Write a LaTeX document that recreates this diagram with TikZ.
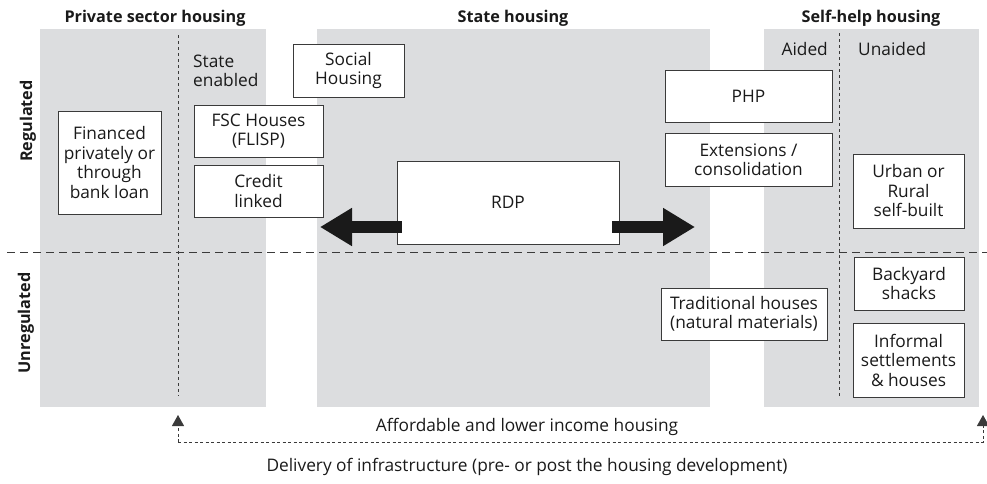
\documentclass[tikz,border=0pt]{standalone}
\usepackage{fontspec}
\setmainfont{Open Sans}
\usetikzlibrary{arrows.meta}

\definecolor{panel}{HTML}{DCDDDF}
\definecolor{ink}{HTML}{1A1A1A}
\definecolor{rule}{HTML}{3A3A3A}
\tikzstyle{panels}=[fill=panel, draw=none]
\tikzstyle{boxes}=[draw=rule, fill=white, line width=0.9pt, align=center, inner sep=0pt, text=ink, font=\fontsize{17.3}{19.5}\selectfont]
\tikzstyle{labels}=[text=ink, inner sep=0pt, font=\fontsize{17.3}{19.5}\selectfont]
\tikzstyle{heads}=[text=ink, inner sep=0pt, font=\bfseries\fontsize{16.2}{19}\selectfont]
\tikzstyle{splits}=[draw=rule, line width=0.9pt, dash pattern=on 3pt off 3pt]
\tikzstyle{divide}=[draw=rule, line width=1pt, dash pattern=on 8pt off 5pt]
\tikzstyle{bigarrow}=[draw=ink, line width=12pt, -{Triangle[length=32pt,width=36pt]}]
\tikzstyle{infra}=[draw=rule, line width=0.9pt, dash pattern=on 3pt off 2.5pt, -{Triangle[length=11pt,width=12pt]}]

\begin{document}
\begin{tikzpicture}[x=1pt, y=-1pt]
  \useasboundingbox (0,0) rectangle (987,483);
  % grey columns
  \fill[panels] (40,29) rectangle (266,407);
  \fill[panels] (317,29) rectangle (710,407);
  \fill[panels] (764,29) rectangle (979,407);

  % column headings
  \node[heads] (H1) at (155,18) {Private sector housing};
  \node[heads] (H2) at (513,18) {State housing};
  \node[heads] (H3) at (871,18) {Self-help housing};

  % row headings
  \node[heads, rotate=90] (R1) at (28,121) {Regulated};
  \node[heads, rotate=90] (R2) at (26,323) {Unregulated};

  % dividers
  \coordinate (DL) at (7,252);
  \coordinate (DR) at (987,252);
  \draw[divide] (DL) -- (DR);
  \coordinate (V1a) at (178,35);
  \coordinate (V1b) at (178,396);
  \draw[splits] (V1a) -- (V1b);
  \coordinate (V2a) at (839,33);
  \coordinate (V2b) at (839,396);
  \draw[splits] (V2a) -- (V2b);

  \node[labels, anchor=west, align=left] (SE) at (193,71) {State\\enabled};
  \node[labels, anchor=east] (AI) at (828,49) {Aided};
  \node[labels, anchor=west] (UN) at (858,49) {Unaided};

  % private sector
  \node[boxes, minimum width=103, minimum height=103] (FIN) at (109.5,162.5) {Financed\\privately or\\through\\bank loan};
  \node[boxes, minimum width=129, minimum height=52] (FSC) at (258.5,131) {FSC Houses\\(FLISP)};
  \node[boxes, minimum width=129, minimum height=52] (CRE) at (258.5,191) {Credit\\linked};

  % state
  \node[boxes, minimum width=111, minimum height=53] (SOC) at (348.5,70.5) {Social\\Housing};
  \node[boxes, minimum width=222, minimum height=83] (RDP) at (508,202.5) {RDP};
  \node[boxes, minimum width=167, minimum height=52] (PHP) at (748.5,96) {PHP};
  \node[boxes, minimum width=167, minimum height=53] (EXT) at (748.5,159.5) {Extensions /\\consolidation};
  \node[boxes, minimum width=166, minimum height=52] (TRA) at (744,314) {Traditional houses\\(natural materials)};

  % self-help
  \node[boxes, minimum width=111, minimum height=74] (URB) at (908.5,191) {Urban or\\Rural\\self-built};
  \node[boxes, minimum width=110, minimum height=53] (BAC) at (909,283.5) {Backyard\\shacks};
  \node[boxes, minimum width=111, minimum height=74] (INF) at (908.5,360) {Informal\\settlements\\\& houses};

  % RDP arrows
  \coordinate (LT) at (320,227);
  \coordinate (RT) at (695,227);
  \draw[bigarrow] ([shift={(5,24.5)}]RDP.west) -- (LT);
  \draw[bigarrow] ([shift={(-7,24.5)}]RDP.east) -- (RT);

  % infrastructure
  \coordinate (AL) at (178,415);
  \coordinate (BL) at (178,442);
  \coordinate (BR) at (983,442);
  \coordinate (AR) at (983,415);
  \draw[infra] (BL) -- (AL);
  \draw[infra] (BL) -- (BR) -- (AR);
  \node[labels] (AFF) at (527,427) {Affordable and lower income housing};
  \node[labels] (DEL) at (527,467) {Delivery of infrastructure (pre- or post the housing development)};
\end{tikzpicture}
\end{document}
